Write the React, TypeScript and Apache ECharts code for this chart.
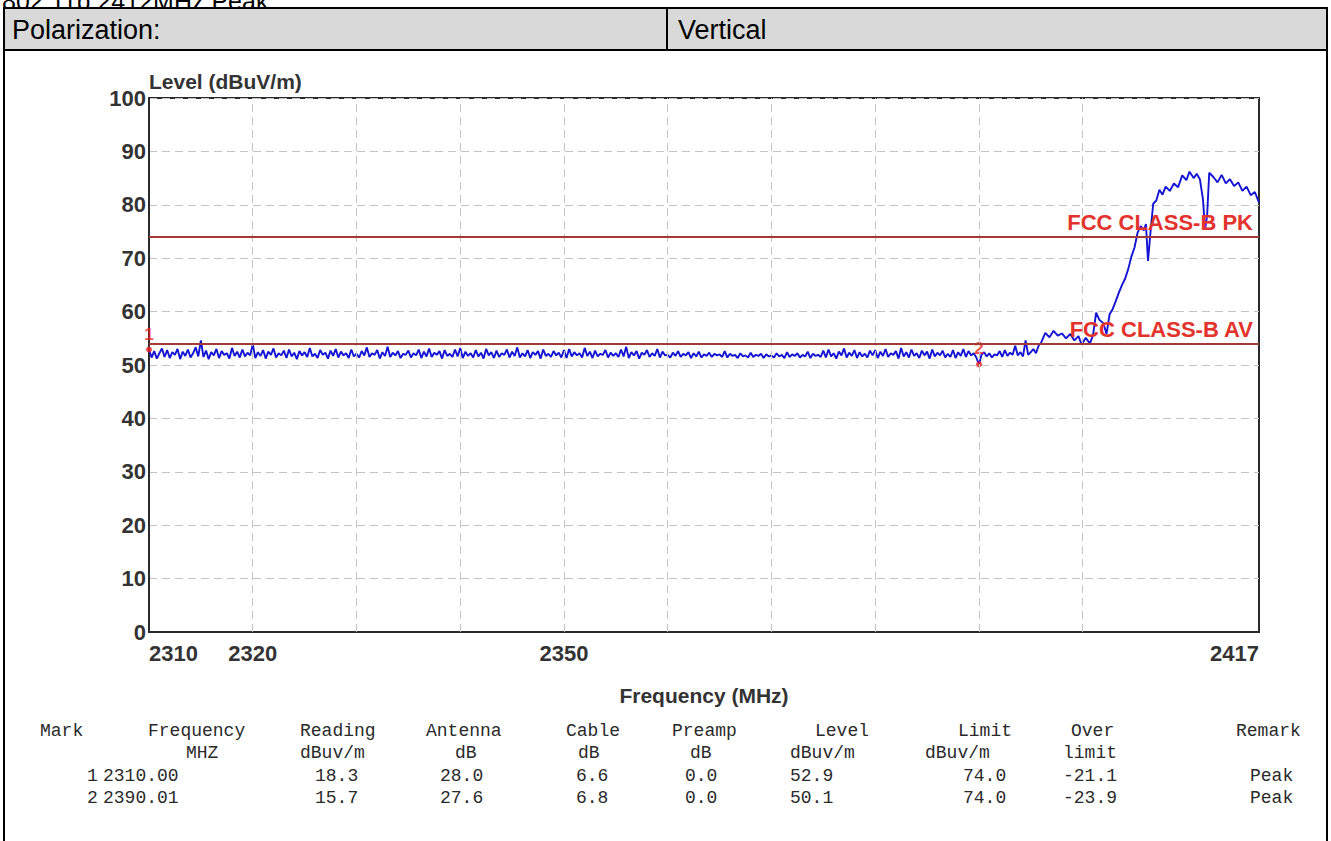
import React, { useEffect, useRef } from "react";
import * as echarts from "echarts";

// ---------- data ----------
const X_MIN = 2310;
const X_MAX = 2417;
const X_LABELS = [2310, 2320, 2350, 2417];
const X_GRID = [2320, 2330, 2340, 2350, 2360, 2370, 2380, 2390, 2400];
const Y_MIN = 0;
const Y_MAX = 100;
const Y_TITLE = "Level (dBuV/m)";
const X_TITLE = "Frequency (MHz)";

// noise floor sampled every 0.25 MHz from 2310 MHz (one row = 5 MHz)
const NOISE_START = 2310;
const NOISE_STEP = 0.25;
const NOISE = [
  52.9, 51.4, 52.6, 51.2, 52.2, 53.1, 51.5, 52.8, 51.3, 52.4, 51.9, 53.0, 51.1, 52.5, 51.7, 52.9, 51.4, 52.2, 53.3, 51.6,
  54.6, 51.5, 52.7, 51.1, 52.4, 51.8, 53.0, 51.3, 52.6, 51.9, 52.2, 51.2, 53.2, 51.7, 52.5, 51.4, 52.9, 51.6, 52.3, 51.8,
  53.9, 51.3, 52.4, 51.7, 52.8, 51.2, 52.5, 51.9, 53.1, 51.4, 52.2, 51.8, 52.7, 51.3, 52.9, 51.6, 52.3, 51.1, 52.6, 51.8,
  52.4, 51.5, 53.2, 51.6, 52.1, 51.3, 52.8, 51.9, 52.3, 51.2, 52.7, 51.7, 53.0, 51.4, 52.5, 51.8, 52.2, 51.3, 52.9, 51.6,
  52.1, 51.4, 52.6, 51.8, 53.3, 51.5, 52.2, 51.9, 52.8, 51.2, 52.4, 51.7, 53.4, 51.5, 52.3, 51.8, 52.6, 51.3, 52.1, 51.9,
  52.7, 51.4, 52.2, 51.8, 52.9, 51.3, 52.5, 51.6, 53.1, 51.5, 52.3, 51.9, 52.6, 51.2, 52.8, 51.7, 52.1, 51.5, 52.9, 51.6,
  53.2, 51.3, 52.5, 51.7, 52.2, 51.4, 52.8, 51.6, 52.3, 51.2, 53.0, 51.8, 52.4, 51.3, 52.7, 51.5, 52.2, 51.9, 52.9, 51.4,
  52.5, 51.7, 53.3, 51.4, 52.2, 51.6, 52.8, 51.3, 52.4, 51.9, 52.6, 51.2, 52.9, 51.7, 52.1, 51.5, 52.6, 51.8, 52.3, 51.4,
  52.8, 51.3, 53.0, 51.6, 52.4, 51.8, 52.2, 51.4, 53.2, 51.7, 52.5, 51.3, 52.7, 51.6, 52.1, 51.9, 52.8, 51.4, 52.3, 51.7,
  52.2, 51.5, 52.9, 51.6, 53.4, 51.3, 52.4, 51.8, 52.6, 51.2, 52.3, 51.9, 52.8, 51.5, 52.2, 51.7, 53.0, 51.4, 52.5, 51.8,
  51.9, 51.4, 52.3, 51.7, 52.6, 51.5, 52.1, 51.8, 52.4, 51.3, 52.2, 51.6, 52.5, 51.4, 52.0, 51.7, 52.3, 51.5, 52.1, 51.8,
  52.0, 51.5, 52.6, 51.4, 52.1, 51.7, 51.9, 51.3, 52.2, 51.6, 51.8, 51.4, 52.3, 51.5, 51.9, 51.7, 52.1, 51.3, 52.0, 51.6,
  51.8, 51.4, 52.2, 51.6, 51.9, 51.3, 52.4, 51.5, 52.0, 51.7, 52.2, 51.4, 51.9, 51.6, 52.5, 51.3, 52.1, 51.7, 51.9, 51.5,
  52.7, 51.4, 52.9, 51.6, 52.2, 51.2, 52.5, 51.8, 53.1, 51.4, 52.3, 51.7, 52.8, 51.3, 52.4, 51.6, 52.1, 51.4, 52.7, 51.8,
  52.8, 51.3, 52.5, 51.7, 53.0, 51.5, 52.2, 51.9, 52.6, 51.2, 53.2, 51.6, 52.4, 51.4, 52.9, 51.7, 52.2, 51.3, 52.7, 51.8,
  52.5, 51.2, 52.9, 51.6, 52.3, 51.8, 52.7, 51.4, 52.1, 51.5, 52.8, 51.3, 52.4, 51.7, 53.0, 51.5, 52.6, 51.8, 52.2, 51.4,
  50.1, 51.9, 52.4, 51.6, 52.2, 51.4, 52.0, 51.8, 52.6, 51.5, 52.8, 51.7, 52.3, 51.9, 53.6, 51.8, 52.4, 51.6, 54.6, 51.9,
  52.4, 53.0, 52.2, 53.6,
];

// band-edge rise [MHz, dBuV/m]
const RISE = [
  [2396.0, 54.2], [2396.4, 56.0], [2396.8, 55.2], [2397.2, 56.4], [2397.6, 55.5],
  [2398.0, 55.9], [2398.4, 55.0], [2398.8, 55.8], [2399.2, 54.6], [2399.6, 55.4],
  [2399.9, 53.8], [2400.3, 55.1], [2400.7, 54.0], [2401.0, 55.6], [2401.3, 59.8],
  [2401.6, 58.5], [2402.0, 57.8], [2402.3, 55.8], [2402.6, 59.5], [2402.9, 60.5],
  [2403.2, 62.0], [2403.5, 63.6], [2403.8, 65.0], [2404.1, 66.2], [2404.4, 68.0],
  [2404.7, 70.3], [2405.0, 72.0], [2405.3, 74.8], [2405.6, 76.0], [2405.9, 75.2],
  [2406.1, 76.4], [2406.3, 69.5], [2406.5, 74.0], [2406.8, 80.2], [2407.1, 80.8],
  [2407.4, 82.8], [2407.7, 81.9], [2408.0, 83.4], [2408.4, 82.6], [2408.8, 84.0],
  [2409.2, 83.3], [2409.6, 85.5], [2410.0, 84.6], [2410.3, 86.2], [2410.7, 85.0],
  [2411.0, 85.8], [2411.3, 84.8], [2411.6, 81.0], [2411.8, 75.4], [2412.0, 78.0],
  [2412.2, 86.0], [2412.6, 85.2], [2413.0, 84.2], [2413.4, 85.6], [2413.8, 84.0],
  [2414.2, 84.8], [2414.6, 83.5], [2415.0, 84.2], [2415.4, 82.6], [2415.8, 83.4],
  [2416.2, 81.8], [2416.6, 82.4], [2417.0, 80.4],
];

const LIMIT_PK = 74;
const LIMIT_AV = 54;
const LIMIT_PK_LABEL = "FCC CLASS-B PK";
const LIMIT_AV_LABEL = "FCC CLASS-B AV";

// marker table
const MARK_NO = [1, 2];
const MARK_FREQ = [2310.0, 2390.01];
const MARK_READING = [18.3, 15.7];
const MARK_ANTENNA = [28.0, 27.6];
const MARK_CABLE = [6.6, 6.8];
const MARK_PREAMP = [0.0, 0.0];
const MARK_LEVEL = [52.9, 50.1];
const MARK_LIMIT = [74.0, 74.0];
const MARK_OVER = [-21.1, -23.9];
const MARK_REMARK = ["Peak", "Peak"];

const HEAD1 = ["Mark", "Frequency", "Reading", "Antenna", "Cable", "Preamp", "Level", "Limit", "Over", "Remark"];
const HEAD2 = ["MHZ", "dBuv/m", "dB", "dB", "dB", "dBuv/m", "dBuv/m", "limit"];

const TOP_CAPTION = "802.11b 2412MHz Peak:";
const POL_LABEL = "Polarization:";
const POL_VALUE = "Vertical";

// ---------- layout (page pixels) ----------
const H1_X = [40, 148, 300, 426, 566, 672, 815, 958, 1071, 1236];
const H2_X = [186, 300, 455, 578, 690, 790, 925, 1063];
const ROW_X = [87, 103, 315, 440, 576, 685, 790, 963, 1063, 1250];
const ROW_Y = [721, 743, 766, 788];

function Chart() {
  const ref = useRef<HTMLDivElement>(null);
  useEffect(() => {
    if (!ref.current) return;
    const chart = echarts.init(ref.current, null, { renderer: "svg" });
    const trace = [
      ...NOISE.map((v, i) => [NOISE_START + i * NOISE_STEP, v]),
      ...RISE,
    ];
    const limitLabel = {
      show: true,
      position: "insideEndTop",
      color: "#e3332c",
      fontSize: 22,
      fontWeight: "bold",
      fontFamily: "Liberation Sans",
      distance: [6, 3],
    };
    chart.setOption({
      animation: false,
      textStyle: { fontFamily: "Liberation Sans" },
      graphic: [
        {
          type: "text",
          left: 144,
          top: 20,
          style: { text: Y_TITLE, font: "bold 21px 'Liberation Sans'", fill: "#333" },
        },
      ],
      grid: {
        left: 144,
        top: 47,
        width: 1110,
        height: 535,
        show: true,
        borderColor: "#2a2a2a",
        borderWidth: 2,
        backgroundColor: "#fff",
      },
      xAxis: {
        type: "value",
        min: X_MIN,
        max: X_MAX,
        interval: 10,
        name: X_TITLE,
        nameLocation: "middle",
        nameGap: 53,
        nameTextStyle: { fontSize: 21, fontWeight: "bold", color: "#333" },
        axisLine: { show: true, lineStyle: { color: "#2a2a2a", width: 2 } },
        axisTick: { show: false },
        splitLine: { show: false },
        axisLabel: {
          show: true,
          margin: 10,
          fontSize: 22,
          fontWeight: "bold",
          color: "#333",
          showMinLabel: true,
          showMaxLabel: true,
          alignMinLabel: "left",
          alignMaxLabel: "right",
          hideOverlap: false,
          formatter: (v: number) => (X_LABELS.includes(Math.round(v)) ? String(Math.round(v)) : ""),
        },
      },
      yAxis: {
        type: "value",
        min: Y_MIN,
        max: Y_MAX,
        interval: 10,
        axisLine: { show: true, lineStyle: { color: "#2a2a2a", width: 2 } },
        axisTick: { show: false },
        axisLabel: { margin: 3, fontSize: 22, fontWeight: "bold", color: "#333" },
        splitLine: { show: true, lineStyle: { color: "#c4c4c4", type: [8, 5], width: 1 } },
      },
      series: [
        {
          type: "line",
          data: [],
          silent: true,
          markLine: {
            silent: true,
            symbol: "none",
            label: { show: false },
            lineStyle: { color: "#c4c4c4", type: [8, 5], width: 1 },
            data: X_GRID.map((f) => ({ xAxis: f })),
          },
        },
        {
          type: "line",
          data: [],
          silent: true,
          markLine: {
            silent: true,
            symbol: "none",
            lineStyle: { color: "#a33a36", type: "solid", width: 2 },
            data: [
              { yAxis: LIMIT_PK, label: { ...limitLabel, formatter: LIMIT_PK_LABEL } },
              { yAxis: LIMIT_AV, label: { ...limitLabel, formatter: LIMIT_AV_LABEL } },
            ],
          },
        },
        {
          type: "line",
          data: trace,
          showSymbol: false,
          symbol: "none",
          lineStyle: { color: "#1414d4", width: 1.9 },
          z: 3,
        },
        {
          type: "scatter",
          data: MARK_FREQ.map((f, i) => [f, MARK_LEVEL[i]]),
          symbolSize: 6,
          itemStyle: { color: "#f02020" },
          z: 4,
          label: {
            show: true,
            position: "top",
            distance: 4,
            color: "#f02020",
            fontSize: 17,
            fontWeight: "bold",
            formatter: (p: any) => String(MARK_NO[p.dataIndex]),
          },
        },
      ],
    });
    return () => chart.dispose();
  }, []);
  return <div ref={ref} style={{ position: "absolute", left: 5, top: 51, width: 1320, height: 660 }} />;
}

const mono: React.CSSProperties = {
  position: "absolute",
  fontFamily: "'Liberation Mono', monospace",
  fontSize: 18,
  lineHeight: "20px",
  color: "#2a2a2a",
  whiteSpace: "pre",
};

export default function App() {
  const rowCells = MARK_NO.map((n, i) => [
    String(n),
    MARK_FREQ[i].toFixed(2),
    MARK_READING[i].toFixed(1),
    MARK_ANTENNA[i].toFixed(1),
    MARK_CABLE[i].toFixed(1),
    MARK_PREAMP[i].toFixed(1),
    MARK_LEVEL[i].toFixed(1),
    MARK_LIMIT[i].toFixed(1),
    MARK_OVER[i].toFixed(1),
    MARK_REMARK[i],
  ]);
  return (
    <div
      style={{
        position: "fixed",
        left: 0,
        top: 0,
        width: 1331,
        height: 841,
        overflow: "hidden",
        background: "#fff",
        fontFamily: "'Liberation Sans', Arial, sans-serif",
      }}
    >
      <div style={{ position: "absolute", left: 2, top: -11, fontSize: 25, lineHeight: "25px", color: "#000", whiteSpace: "pre" }}>
        {TOP_CAPTION}
      </div>
      {/* outer box */}
      <div
        style={{
          position: "absolute",
          left: 3,
          top: 7,
          width: 1321,
          height: 900,
          borderLeft: "2px solid #000",
          borderRight: "2px solid #000",
          borderTop: "2px solid #000",
        }}
      />
      {/* header row */}
      <div
        style={{
          position: "absolute",
          left: 5,
          top: 9,
          width: 1321,
          height: 40,
          background: "#d9d9d9",
          borderBottom: "2px solid #000",
        }}
      />
      <div style={{ position: "absolute", left: 666, top: 9, width: 2, height: 40, background: "#000" }} />
      <div style={{ position: "absolute", left: 12, top: 15, fontSize: 27, lineHeight: "30px", color: "#000" }}>{POL_LABEL}</div>
      <div style={{ position: "absolute", left: 678, top: 15, fontSize: 27, lineHeight: "30px", color: "#000" }}>{POL_VALUE}</div>

      <Chart />

      {HEAD1.map((t, i) => (
        <div key={"h1" + i} style={{ ...mono, left: H1_X[i], top: ROW_Y[0] }}>{t}</div>
      ))}
      {HEAD2.map((t, i) => (
        <div key={"h2" + i} style={{ ...mono, left: H2_X[i], top: ROW_Y[1] }}>{t}</div>
      ))}
      {rowCells.map((row, r) =>
        row.map((t, i) => (
          <div key={"r" + r + "c" + i} style={{ ...mono, left: ROW_X[i], top: ROW_Y[2 + r] }}>{t}</div>
        ))
      )}
    </div>
  );
}
